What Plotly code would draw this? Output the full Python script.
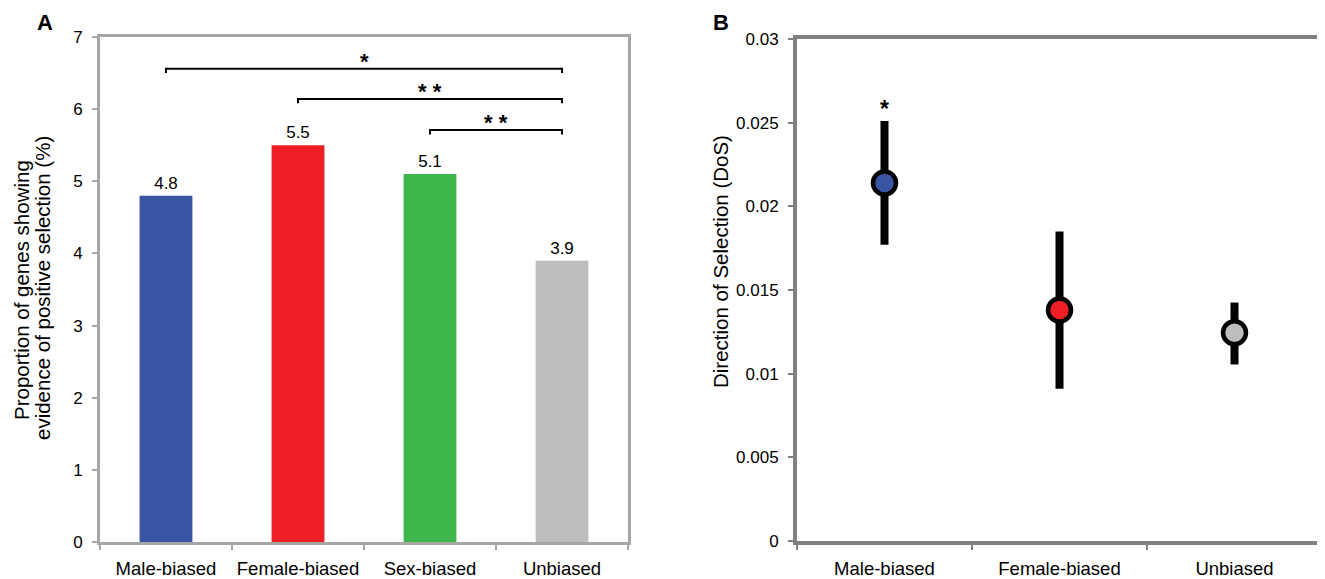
import plotly.graph_objects as go

# Panel A data
cats_a = ["Male-biased", "Female-biased", "Sex-biased", "Unbiased"]
vals_a = [4.8, 5.5, 5.1, 3.9]
colors_a = ["#3A54A4", "#EE1F24", "#3FB64B", "#BDBDBD"]
yticks_a = [0, 1, 2, 3, 4, 5, 6, 7]
ytitle_a = ["Proportion of genes showing", "evidence of positive selection (%)"]
# comparisons: (from index, to index, label, bracket level)
comp_from = [0, 1, 2]
comp_to = [3, 3, 3]
comp_label = ["*", "* *", "* *"]
comp_level = [6.56, 6.14, 5.71]

# Panel B data
cats_b = ["Male-biased", "Female-biased", "Unbiased"]
dos_b = [0.0214, 0.0138, 0.01245]
err_plus_b = [0.0037, 0.0047, 0.0018]
err_minus_b = [0.0037, 0.0047, 0.0019]
colors_b = ["#3A54A4", "#EE1F24", "#BDBDBD"]
sig_b = ["*", "", ""]
yticks_b = [0, 0.005, 0.01, 0.015, 0.02, 0.025, 0.03]
ytitle_b = "Direction of Selection (DoS)"

FONT = "Arial, Liberation Sans, sans-serif"
OFF = 8  # page body margin
W, H = 1325 - OFF, 579 - OFF


def px_x(x):
    return (x - OFF) / W


def px_y(y):
    return 1 - (y - OFF) / H


fig = go.Figure()
fig.add_trace(go.Bar(
    x=cats_a, y=vals_a, marker=dict(color=colors_a, line=dict(width=0)),
    width=0.4, text=[f"{v:.1f}" for v in vals_a], textposition="outside",
    textfont=dict(size=17, color="black", family=FONT), cliponaxis=False,
    xaxis="x", yaxis="y", showlegend=False))

fig.add_trace(go.Scatter(
    x=cats_b, y=dos_b, mode="markers",
    marker=dict(size=23, color=colors_b, line=dict(color="black", width=4.5)),
    error_y=dict(type="data", symmetric=False, array=err_plus_b, arrayminus=err_minus_b,
                 thickness=8, width=0, color="black"),
    xaxis="x2", yaxis="y2", showlegend=False, cliponaxis=False))

shapes = []
annotations = []
tick_drop = 0.06
for f, t, lab, lv in zip(comp_from, comp_to, comp_label, comp_level):
    shapes.append(dict(type="path", xref="x", yref="y",
                       path=f"M {f},{lv - tick_drop} L {f},{lv} L {t},{lv} L {t},{lv - tick_drop}",
                       line=dict(color="black", width=2)))
    annotations.append(dict(x=(f + t) / 2, y=lv, xref="x", yref="y", text=f"<b>{lab}</b>",
                            showarrow=False, yanchor="bottom", yshift=-7,
                            font=dict(size=22, color="black", family=FONT)))

for i, s in enumerate(sig_b):
    if s:
        annotations.append(dict(x=i, y=dos_b[i] + err_plus_b[i], xref="x2", yref="y2",
                                text=f"<b>{s}</b>", showarrow=False, yanchor="bottom",
                                yshift=-3, font=dict(size=23, color="black", family=FONT)))

title_font = dict(size=20.5, family=FONT, color="black")
paper_ann = [
    dict(x=45, y=22, text="<b>A</b>", font=dict(size=22, family=FONT, color="black")),
    dict(x=721, y=22, text="<b>B</b>", font=dict(size=22, family=FONT, color="black")),
    dict(x=21, y=290, text=ytitle_a[0], textangle=-90, font=title_font),
    dict(x=43, y=288, text=ytitle_a[1], textangle=-90, font=title_font),
    dict(x=720, y=262, text=ytitle_b, textangle=-90, font=title_font),
]
for a in paper_ann:
    a["x"] = px_x(a["x"])
    a["y"] = px_y(a["y"])
    a.update(xref="paper", yref="paper", xanchor="center", yanchor="middle", showarrow=False)
annotations += paper_ann

axis_common = dict(showgrid=False, zeroline=False, mirror=True, ticks="outside", automargin=False,
                   ticklen=5, tickfont=dict(size=17, family=FONT, color="black"))
xfont = dict(size=18.5, family=FONT, color="black")

fig.update_layout(
    width=W, height=H, margin=dict(l=0, r=0, t=0, b=0, autoexpand=False),
    paper_bgcolor="white", plot_bgcolor="white",
    font=dict(family=FONT, color="black"),
    xaxis=dict(domain=[px_x(100), px_x(628)], anchor="y", type="category", range=[-0.5, 3.5],
               tickson="boundaries", linecolor="#A6A6A6", linewidth=3, tickcolor="#A6A6A6",
               tickwidth=2, ticklabelstandoff=8, tickangle=0, **{**axis_common, "tickfont": xfont}),
    yaxis=dict(domain=[px_y(542), px_y(37)], anchor="x", range=[0, 7], tickvals=yticks_a,
               linecolor="#A6A6A6", linewidth=3, tickcolor="#A6A6A6", tickwidth=2,
               ticklabelstandoff=6, **axis_common),
    xaxis2=dict(domain=[px_x(797), px_x(1322)], anchor="y2", type="category", range=[-0.5, 2.5],
                tickson="boundaries", linecolor="#808080", linewidth=4, tickcolor="#808080",
                tickwidth=2, ticklabelstandoff=8, tickangle=0, **{**axis_common, "tickfont": xfont}),
    yaxis2=dict(domain=[px_y(541), px_y(39)], anchor="x2", range=[0, 0.03], tickvals=yticks_b,
                ticktext=[f"{v:g}" for v in yticks_b],
                linecolor="#808080", linewidth=4, tickcolor="#808080", tickwidth=2,
                ticklabelstandoff=6, **axis_common),
    shapes=shapes, annotations=annotations,
)

fig.write_html("out.html")
